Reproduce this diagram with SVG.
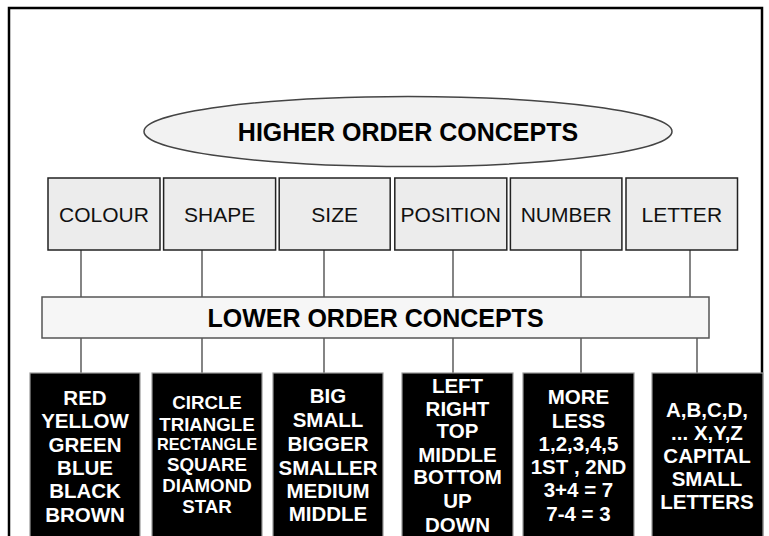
<svg xmlns="http://www.w3.org/2000/svg" width="769" height="536" viewBox="0 0 769 536">
<style>
  .frame { fill: none; stroke: #000; stroke-width: 2.5; }
  .cat { fill: #ececec; stroke: #222; stroke-width: 1.5; }
  .cat-t { font-family: "Liberation Sans", Arial, sans-serif; font-size: 21px; fill: #111; text-anchor: middle; }
  .title { font-family: "Liberation Sans", Arial, sans-serif; font-size: 25px; font-weight: bold; fill: #000; text-anchor: middle; }
  .leaf { fill: #000; stroke: #999; stroke-width: 1.2; }
  .leaf-t { font-family: "Liberation Sans", Arial, sans-serif; font-size: 20.5px; font-weight: bold; fill: #fff; text-anchor: middle; }
  .conn line { stroke: #333; stroke-width: 1.2; }
</style>
<rect width="769" height="536" fill="#fff"/>
<rect class="frame" x="9" y="8" width="753" height="540"/>

<g id="connectors" class="conn">
  <line x1="81" y1="250" x2="81" y2="297"/>
  <line x1="202" y1="250" x2="202" y2="297"/>
  <line x1="324" y1="250" x2="324" y2="297"/>
  <line x1="453" y1="250" x2="453" y2="297"/>
  <line x1="581" y1="250" x2="581" y2="297"/>
  <line x1="690" y1="250" x2="690" y2="297"/>
  <line x1="81" y1="338" x2="81" y2="373"/>
  <line x1="202" y1="338" x2="202" y2="373"/>
  <line x1="324" y1="338" x2="324" y2="373"/>
  <line x1="453" y1="338" x2="453" y2="373"/>
  <line x1="581" y1="338" x2="581" y2="373"/>
  <line x1="697" y1="338" x2="697" y2="373"/>
</g>

<g id="higher">
  <ellipse cx="408" cy="131.5" rx="264" ry="35" fill="#f2f2f2" stroke="#444" stroke-width="1.5"/>
  <text class="title" x="408" y="141">HIGHER ORDER CONCEPTS</text>
</g>

<g id="colour"><rect class="cat" x="48" y="178" width="112" height="72"/><text class="cat-t" x="104" y="222">COLOUR</text></g>
<g id="shape"><rect class="cat" x="163.6" y="178" width="112" height="72"/><text class="cat-t" x="219.6" y="222">SHAPE</text></g>
<g id="size"><rect class="cat" x="279.2" y="178" width="111" height="72"/><text class="cat-t" x="334.7" y="222">SIZE</text></g>
<g id="position"><rect class="cat" x="394.8" y="178" width="112" height="72"/><text class="cat-t" x="450.8" y="222">POSITION</text></g>
<g id="number"><rect class="cat" x="510.4" y="178" width="111.5" height="72"/><text class="cat-t" x="566.2" y="222">NUMBER</text></g>
<g id="letter"><rect class="cat" x="626" y="178" width="111.5" height="72"/><text class="cat-t" x="681.8" y="222">LETTER</text></g>

<g id="lower">
  <rect x="42" y="297" width="667" height="41" fill="#f6f6f6" stroke="#555" stroke-width="1.5"/>
  <text class="title" x="375.5" y="327">LOWER ORDER CONCEPTS</text>
</g>

<g id="colour-items">
  <rect class="leaf" x="30" y="373" width="110" height="170"/>
  <text class="leaf-t" x="85" y="405">RED</text>
  <text class="leaf-t" x="85" y="428.3">YELLOW</text>
  <text class="leaf-t" x="85" y="451.7">GREEN</text>
  <text class="leaf-t" x="85" y="475">BLUE</text>
  <text class="leaf-t" x="85" y="498.3">BLACK</text>
  <text class="leaf-t" x="85" y="521.7">BROWN</text>
</g>

<g id="shape-items">
  <rect class="leaf" x="152" y="373" width="110" height="170"/>
  <text class="leaf-t" x="207" y="409" style="font-size:18.7px">CIRCLE</text>
  <text class="leaf-t" x="207" y="430.5" style="font-size:18.7px">TRIANGLE</text>
  <text class="leaf-t" x="207" y="449.5" style="font-size:16.3px">RECTANGLE</text>
  <text class="leaf-t" x="207" y="471" style="font-size:18.7px">SQUARE</text>
  <text class="leaf-t" x="207" y="491.5" style="font-size:18.7px">DIAMOND</text>
  <text class="leaf-t" x="207" y="513" style="font-size:18.7px">STAR</text>
</g>

<g id="size-items">
  <rect class="leaf" x="273" y="373" width="110" height="170"/>
  <text class="leaf-t" x="328" y="403.3">BIG</text>
  <text class="leaf-t" x="328" y="426.7">SMALL</text>
  <text class="leaf-t" x="328" y="450.7">BIGGER</text>
  <text class="leaf-t" x="328" y="475">SMALLER</text>
  <text class="leaf-t" x="328" y="497.7">MEDIUM</text>
  <text class="leaf-t" x="328" y="520.7">MIDDLE</text>
</g>

<g id="position-items">
  <rect class="leaf" x="402" y="373" width="111" height="170"/>
  <text class="leaf-t" x="457.5" y="392.7">LEFT</text>
  <text class="leaf-t" x="457.5" y="416">RIGHT</text>
  <text class="leaf-t" x="457.5" y="438.3">TOP</text>
  <text class="leaf-t" x="457.5" y="461.7">MIDDLE</text>
  <text class="leaf-t" x="457.5" y="484.3">BOTTOM</text>
  <text class="leaf-t" x="457.5" y="507.7">UP</text>
  <text class="leaf-t" x="457.5" y="531.7">DOWN</text>
</g>

<g id="number-items">
  <rect class="leaf" x="523" y="373" width="111" height="170"/>
  <text class="leaf-t" x="578.5" y="404.3">MORE</text>
  <text class="leaf-t" x="578.5" y="427.7">LESS</text>
  <text class="leaf-t" x="578.5" y="450.7">1,2,3,4,5</text>
  <text class="leaf-t" x="578.5" y="474">1ST , 2ND</text>
  <text class="leaf-t" x="578.5" y="497.3">3+4 = 7</text>
  <text class="leaf-t" x="578.5" y="520.7">7-4 = 3</text>
</g>

<g id="letter-items">
  <rect class="leaf" x="652" y="373" width="111" height="170"/>
  <text class="leaf-t" x="707" y="417">A,B,C,D,</text>
  <text class="leaf-t" x="707" y="440">... X,Y,Z</text>
  <text class="leaf-t" x="707" y="462.7">CAPITAL</text>
  <text class="leaf-t" x="707" y="486">SMALL</text>
  <text class="leaf-t" x="707" y="509.3">LETTERS</text>
</g>
</svg>
